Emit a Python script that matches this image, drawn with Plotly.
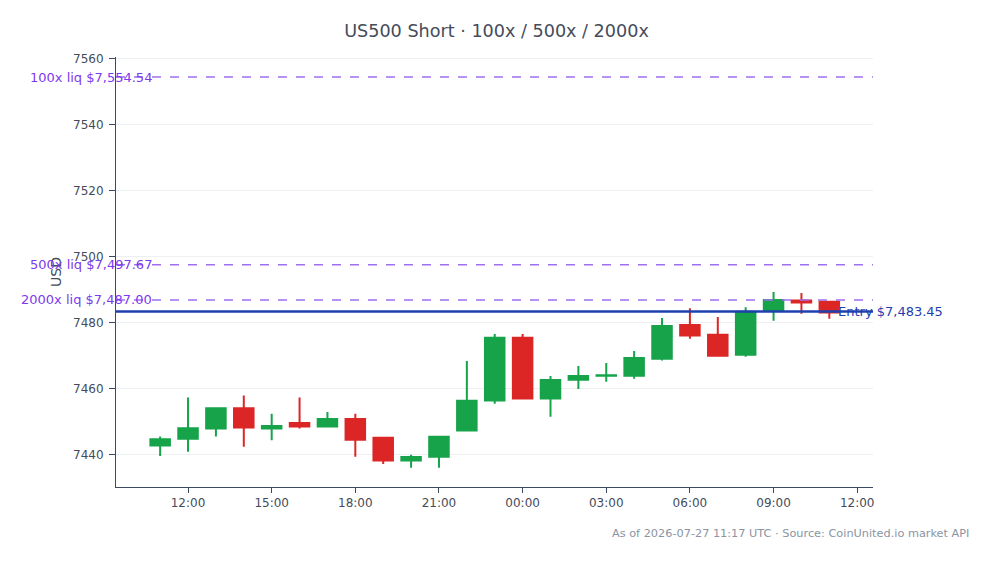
import plotly.graph_objects as go

times = [
    "2026-07-26 11:00", "2026-07-26 12:00", "2026-07-26 13:00", "2026-07-26 14:00",
    "2026-07-26 15:00", "2026-07-26 16:00", "2026-07-26 17:00", "2026-07-26 18:00",
    "2026-07-26 19:00", "2026-07-26 20:00", "2026-07-26 21:00", "2026-07-26 22:00",
    "2026-07-26 23:00", "2026-07-27 00:00", "2026-07-27 01:00", "2026-07-27 02:00",
    "2026-07-27 03:00", "2026-07-27 04:00", "2026-07-27 05:00", "2026-07-27 06:00",
    "2026-07-27 07:00", "2026-07-27 08:00", "2026-07-27 09:00", "2026-07-27 10:00",
    "2026-07-27 11:00",
]
opens = [7442.9, 7444.9, 7448.0, 7454.2, 7448.0, 7449.7, 7448.6, 7450.9, 7445.2, 7438.3,
         7439.5, 7447.4, 7456.5, 7475.5, 7457.1, 7462.8, 7464.0, 7464.0, 7469.2, 7479.4,
         7476.4, 7470.4, 7483.7, 7486.8, 7486.4]
highs = [7445.6, 7457.4, 7454.2, 7458.0, 7452.5, 7457.4, 7453.0, 7452.5, 7445.2, 7440.1,
         7445.5, 7468.5, 7476.7, 7476.7, 7463.9, 7467.0, 7467.9, 7471.5, 7481.5, 7484.5,
         7481.8, 7484.8, 7489.4, 7489.1, 7486.4]
lows = [7439.7, 7441.0, 7445.6, 7442.5, 7444.5, 7448.0, 7448.6, 7439.5, 7437.3, 7436.1,
        7436.1, 7447.4, 7455.5, 7456.9, 7451.6, 7460.0, 7462.2, 7463.1, 7468.6, 7475.2,
        7470.1, 7469.8, 7480.7, 7482.8, 7481.3]
closes = [7444.8, 7448.1, 7454.2, 7448.3, 7448.8, 7448.6, 7450.9, 7444.6, 7438.3, 7439.4,
          7445.5, 7456.4, 7475.5, 7457.1, 7462.7, 7463.9, 7464.2, 7469.4, 7479.1, 7476.2,
          7470.1, 7483.4, 7487.0, 7486.2, 7483.2]

entry_price = 7483.45
liq_labels = ["100x liq $7,554.54", "500x liq $7,497.67", "2000x liq $7,487.00"]
liq_prices = [7554.54, 7497.67, 7487.00]

title_text = "US500 Short · 100x / 500x / 2000x"
footer_text = "As of 2026-07-27 11:17 UTC · Source: CoinUnited.io market API"

GREEN = "#16a34a"
RED = "#dc2626"
PURPLE_LINE = "#9f6ff0"
PURPLE_TEXT = "#7c3aed"
BLUE = "#1e40af"
AXIS = "#3b4a5e"
TEXT = "#444c5a"
FONT = "DejaVu Sans"

fig = go.Figure()
fig.add_trace(go.Candlestick(
    x=times, open=opens, high=highs, low=lows, close=closes,
    increasing=dict(line=dict(color=GREEN, width=2), fillcolor=GREEN),
    decreasing=dict(line=dict(color=RED, width=2), fillcolor=RED),
    showlegend=False, name="US500",
))

for lab, p in zip(liq_labels, liq_prices):
    fig.add_shape(type="line", xref="paper", x0=0, x1=1, yref="y", y0=p, y1=p,
                  line=dict(color=PURPLE_LINE, width=1.5, dash="dash"))
    fig.add_annotation(xref="paper", x=0, yref="y", y=p, text=lab, showarrow=False,
                       xanchor="right", yanchor="middle", xshift=38,
                       font=dict(family=FONT, size=13, color=PURPLE_TEXT))

fig.add_shape(type="line", xref="paper", x0=0, x1=1, yref="y", y0=entry_price, y1=entry_price,
              line=dict(color=BLUE, width=2.5))
fig.add_annotation(xref="paper", x=1, yref="y", y=entry_price,
                   text=f"Entry ${entry_price:,.2f}", showarrow=False,
                   xanchor="left", yanchor="middle", xshift=-37,
                   font=dict(family=FONT, size=13, color=BLUE))

fig.add_annotation(xref="paper", yref="paper", x=1.1295, y=-0.109, text=footer_text,
                   showarrow=False, xanchor="right", yanchor="middle",
                   font=dict(family=FONT, size=11.3, color="#8a94a3"))

fig.update_layout(
    width=993, height=564,
    margin=dict(l=116, r=120, t=57, b=77),
    paper_bgcolor="white", plot_bgcolor="white",
    font=dict(family=FONT, size=12, color=TEXT),
    title=dict(text=title_text, x=0.5, xanchor="center", y=1 - 31 / 564, yanchor="middle",
               font=dict(family=FONT, size=17.6, color=TEXT)),
    boxgap=0.3, boxgroupgap=0,
    showlegend=False,
)
fig.update_xaxes(
    range=["2026-07-26 09:25", "2026-07-27 12:34"],
    rangeslider=dict(visible=False),
    tickformat="%H:%M", dtick=3 * 3600 * 1000, tick0="2026-07-26 00:00",
    showgrid=False, showline=True, linecolor=AXIS, linewidth=1,
    ticks="outside", ticklen=5, tickcolor=AXIS, zeroline=False,
)
fig.update_yaxes(
    range=[7430.3, 7560.6], dtick=20, tick0=7440,
    showgrid=True, gridcolor="#edf0f3", showline=True, linecolor=AXIS, linewidth=1,
    ticks="outside", ticklen=6, tickcolor=AXIS, zeroline=False, ticklabelstandoff=3,
    title=dict(text="USD", standoff=8, font=dict(family=FONT, size=14, color=TEXT)),
)

fig.write_html("out.html")
